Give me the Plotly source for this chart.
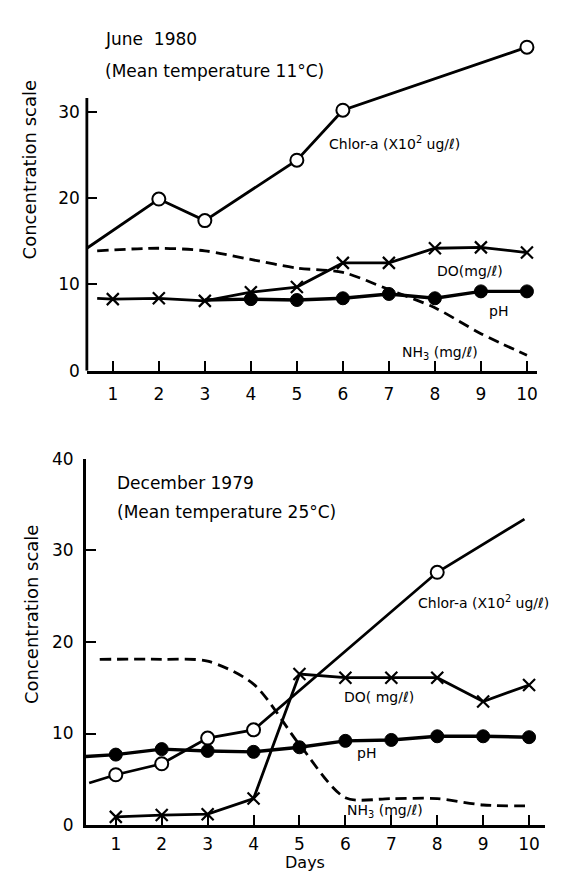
import plotly.graph_objects as go

W, H = 564, 876

# ---------------- data: June 1980 (top panel) ----------------
top_chl_days = [0.436, 2, 3, 5, 6, 10]
top_chl_vals = [14.2, 19.9, 17.4, 24.4, 30.2, 37.5]
top_chl_mark = [0, 13, 13, 13, 13, 13]

top_do_days = [0.66, 1, 2, 3, 4, 5, 6, 7, 8, 9, 10]
top_do_vals = [8.4, 8.3, 8.4, 8.1, 9.1, 9.7, 12.5, 12.5, 14.2, 14.3, 13.7]
top_do_mark = [0, 12, 12, 12, 12, 12, 12, 12, 12, 12, 12]

top_ph_days = [3, 4, 5, 6, 7, 8, 9, 10]
top_ph_vals = [8.2, 8.3, 8.2, 8.4, 8.9, 8.4, 9.2, 9.2]
top_ph_mark = [0, 13, 13, 13, 13, 13, 13, 13]

top_nh3_days = [0.66, 2, 3, 4, 5, 6, 7, 8, 9, 10]
top_nh3_vals = [13.9, 14.2, 13.9, 12.9, 11.9, 11.4, 9.4, 7.3, 4.3, 1.8]

# ---------------- data: December 1979 (bottom panel) ----------------
bot_chl_days = [0.42, 1, 2, 3, 4, 8, 9.9]
bot_chl_vals = [4.6, 5.5, 6.7, 9.5, 10.4, 27.6, 33.4]
bot_chl_mark = [0, 13, 13, 13, 13, 13, 0]

bot_do_days = [1, 2, 3, 4, 5, 6, 7, 8, 9, 10]
bot_do_vals = [0.9, 1.1, 1.2, 2.9, 16.5, 16.1, 16.1, 16.1, 13.5, 15.3]
bot_do_mark = [12, 12, 12, 12, 12, 12, 12, 12, 12, 12]

bot_ph_days = [0.348, 1, 2, 3, 4, 5, 6, 7, 8, 9, 10]
bot_ph_vals = [7.5, 7.7, 8.3, 8.1, 8.0, 8.5, 9.2, 9.3, 9.7, 9.7, 9.6]
bot_ph_mark = [0, 13, 13, 13, 13, 13, 13, 13, 13, 13, 13]

bot_nh3_days = [0.65, 2, 3, 4, 5, 6, 7, 8, 9, 10]
bot_nh3_vals = [18.1, 18.1, 17.9, 15.4, 8.8, 3.0, 2.9, 2.9, 2.2, 2.1]

day_ticks = [1, 2, 3, 4, 5, 6, 7, 8, 9, 10]
top_yticks = [0, 10, 20, 30]
bot_yticks = [0, 10, 20, 30, 40]

FONT = "DejaVu Sans"
LW = 2.8

fig = go.Figure()


def add_panel(xa, ya, chl, do, ph, nh3):
    cd, cv, cm = chl
    fig.add_trace(go.Scatter(
        x=cd, y=cv, xaxis=xa, yaxis=ya, mode="lines+markers",
        line=dict(color="black", width=LW),
        marker=dict(symbol="circle", size=cm, color="white", opacity=1,
                    line=dict(color="black", width=2)),
        showlegend=False, cliponaxis=False))
    nd, nv = nh3
    fig.add_trace(go.Scatter(
        x=nd, y=nv, xaxis=xa, yaxis=ya, mode="lines",
        line=dict(color="black", width=LW, dash="11px,6px", shape="spline", smoothing=0.8),
        showlegend=False, cliponaxis=False))
    dd, dv, dm = do
    fig.add_trace(go.Scatter(
        x=dd, y=dv, xaxis=xa, yaxis=ya, mode="lines+markers",
        line=dict(color="black", width=LW),
        marker=dict(symbol="x-thin", size=dm, color="black", opacity=1,
                    line=dict(color="black", width=2.2)),
        showlegend=False, cliponaxis=False))
    pd_, pv, pm = ph
    fig.add_trace(go.Scatter(
        x=pd_, y=pv, xaxis=xa, yaxis=ya, mode="lines+markers",
        line=dict(color="black", width=LW + 0.6),
        marker=dict(symbol="circle", size=pm, color="black", opacity=1,
                    line=dict(color="black", width=1)),
        showlegend=False, cliponaxis=False))


add_panel("x", "y",
          (top_chl_days, top_chl_vals, top_chl_mark),
          (top_do_days, top_do_vals, top_do_mark),
          (top_ph_days, top_ph_vals, top_ph_mark),
          (top_nh3_days, top_nh3_vals))
add_panel("x2", "y2",
          (bot_chl_days, bot_chl_vals, bot_chl_mark),
          (bot_do_days, bot_do_vals, bot_do_mark),
          (bot_ph_days, bot_ph_vals, bot_ph_mark),
          (bot_nh3_days, bot_nh3_vals))


def px(x):
    return x / W


def py(y):
    return 1 - y / H


axis_common = dict(showgrid=False, zeroline=False, ticks="inside", ticklen=10,
                   tickwidth=2.4, tickcolor="black", linecolor="black", linewidth=LW,
                   tickfont=dict(family=FONT, size=17, color="black"), fixedrange=True)

fig.update_layout(
    width=W, height=H,
    margin=dict(l=0, r=0, t=0, b=0),
    paper_bgcolor="white", plot_bgcolor="rgba(0,0,0,0)",
    font=dict(family=FONT, color="black"),
    xaxis=dict(domain=[px(79), px(530)], range=[0.436, 10.22], anchor="y",
               tickvals=day_ticks, showline=True, ticklabelstandoff=6, **axis_common),
    yaxis=dict(domain=[py(361), 1], range=[0, 361 / 8.83], anchor="x",
               tickvals=top_yticks, showline=False, ticklabelstandoff=6, **axis_common),
    xaxis2=dict(domain=[px(78), px(538)], range=[0.348, 10.348], anchor="y2",
                tickvals=day_ticks, showline=True, ticklabelstandoff=2, **axis_common),
    yaxis2=dict(domain=[py(826), py(451)], range=[0, 40], anchor="x2",
                tickvals=bot_yticks, showline=True, ticklabelstandoff=6, **axis_common),
)

# top y-axis line only up to ~31.6
fig.add_shape(type="line", xref="paper", yref="y", x0=px(79), x1=px(79), y0=0, y1=31.6,
              line=dict(color="black", width=LW))

ann = []


def text(x, y, s, size=15, xanchor="left", angle=0, yanchor="middle"):
    ann.append(dict(x=px(x), y=py(y), xref="paper", yref="paper", text=s, showarrow=False,
                    xanchor=xanchor, yanchor=yanchor, textangle=angle,
                    font=dict(family=FONT, size=size, color="black")))


text(95, 22, "June&nbsp;&nbsp;1980", 17)
text(95, 54, "(Mean temperature 11°C)", 17)
text(320, 128, "Chlor-a (X10<sup>2</sup> ug/ℓ)", 14)
text(428, 259, "DO(mg/ℓ)", 14)
text(480, 300, "pH", 14)
text(393, 343, "NH<sub>3</sub> (mg/ℓ)", 14)

text(107, 476, "December 1979", 17)
text(107, 506, "(Mean temperature 25°C)", 17)
text(409, 598, "Chlor-a (X10<sup>2</sup> ug/ℓ)", 14)
text(335, 695, "DO( mg/ℓ)", 14)
text(348, 752, "pH", 14)
text(338, 812, "NH<sub>3</sub> (mg/ℓ)", 14)

text(298, 876, "Days", 16, xanchor="center", yanchor="bottom")
text(21, 155, "Concentration scale", 18, xanchor="center", angle=-90)
text(23, 610, "Concentration scale", 18, xanchor="center", angle=-90)

fig.update_layout(annotations=ann)

fig.write_html("out.html")
